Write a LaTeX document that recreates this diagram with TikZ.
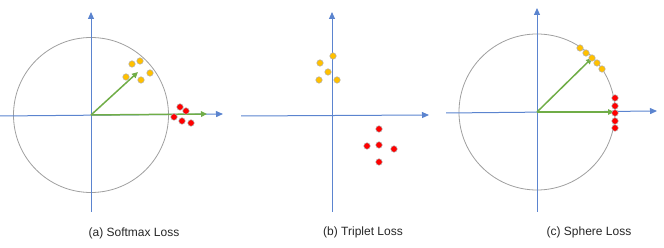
\documentclass[tikz,border=0pt]{standalone}
\usepackage{fontspec}
\setmainfont{Liberation Sans}
\usetikzlibrary{arrows.meta}
\definecolor{axisblue}{HTML}{5B84CF}
\definecolor{vecgreen}{HTML}{70AD47}
\definecolor{dotorange}{HTML}{FFC000}
\definecolor{dotred}{HTML}{FF0000}
\tikzset{
  axis/.style={axisblue, line width=1pt, -{Triangle[length=7pt,width=6pt]}},
  unitcircle/.style={draw=gray!75, line width=0.8pt},
  featvec/.style={vecgreen, line width=1.5pt, -{Triangle[length=6pt,width=5.5pt]}},
  odot/.style={circle, fill=dotorange, draw=gray!60, line width=0.5pt, minimum size=6.5pt, inner sep=0pt},
  rdot/.style={circle, fill=dotred, draw=gray!60, line width=0.5pt, minimum size=6.5pt, inner sep=0pt},
  caption/.style={font=\fontsize{12pt}{14pt}\selectfont, text=black!85}
}
\begin{document}
\begin{tikzpicture}[x=1pt, y=-1pt]
    \useasboundingbox (0,0) rectangle (664,248);
    % (a) softmax
    \coordinate (Oa) at (91,115);
    \coordinate (aTop) at (91,12);
    \coordinate (aBot) at (91,212);
    \coordinate (aLeft) at (0,116);
    \coordinate (aRight) at (223,114);
    \draw[unitcircle] (Oa) circle (77.5);
    \draw[axis] (aBot) -- (aTop);
    \draw[axis] (aLeft) -- (aRight);
    \coordinate (aVec1) at (138,72);
    \coordinate (aVec2) at (207,114);
    \draw[featvec] (Oa) -- (aVec1);
    \draw[featvec] (Oa) -- (aVec2);
    \node[odot] (ao1) at (132,64) {};
    \node[odot] (ao2) at (140,61) {};
    \node[odot] (ao3) at (126,77) {};
    \node[odot] (ao4) at (141,80) {};
    \node[odot] (ao5) at (150,73) {};
    \node[rdot] (ar1) at (180,107) {};
    \node[rdot] (ar2) at (186,111) {};
    \node[rdot] (ar3) at (174,117) {};
    \node[rdot] (ar4) at (182,121) {};
    \node[rdot] (ar5) at (191,123) {};
    \node[caption] (capa) at (134,233) {(a) Softmax Loss};
    % (b) triplet
    \coordinate (bTop) at (332,12);
    \coordinate (bBot) at (332,212);
    \coordinate (bLeft) at (241,116);
    \coordinate (bRight) at (429,115);
    \draw[axis] (bBot) -- (bTop);
    \draw[axis] (bLeft) -- (bRight);
    \node[odot] (bo1) at (333,56) {};
    \node[odot] (bo2) at (320,63) {};
    \node[odot] (bo3) at (328,72) {};
    \node[odot] (bo4) at (319,80) {};
    \node[odot] (bo5) at (337,80) {};
    \node[rdot] (br1) at (379,129) {};
    \node[rdot] (br2) at (367,146) {};
    \node[rdot] (br3) at (379,145) {};
    \node[rdot] (br4) at (394,149) {};
    \node[rdot] (br5) at (379,162) {};
    \node[caption] (capb) at (363,232) {(b) Triplet Loss};
    % (c) sphere
    \coordinate (Oc) at (537,112);
    \coordinate (cTop) at (537,8);
    \coordinate (cBot) at (537,212);
    \coordinate (cLeft) at (446,113);
    \coordinate (cRight) at (657,111);
    \draw[unitcircle] (Oc) circle (78);
    \draw[axis] (cBot) -- (cTop);
    \draw[axis] (cLeft) -- (cRight);
    \coordinate (cVec1) at (592,58);
    \coordinate (cVec2) at (614,112);
    \draw[featvec] (Oc) -- (cVec1);
    \draw[featvec] (Oc) -- (cVec2);
    \node[odot] (co1) at (580,48) {};
    \node[odot] (co2) at (586,53) {};
    \node[odot] (co3) at (592,58) {};
    \node[odot] (co4) at (597,63) {};
    \node[odot] (co5) at (602,69) {};
    \node[rdot] (cr1) at (615,98) {};
    \node[rdot] (cr2) at (615,106) {};
    \node[rdot] (cr3) at (615,113) {};
    \node[rdot] (cr4) at (615,121) {};
    \node[rdot] (cr5) at (615,128) {};
    \node[caption] (capc) at (589,232) {(c) Sphere Loss};
\end{tikzpicture}
\end{document}
